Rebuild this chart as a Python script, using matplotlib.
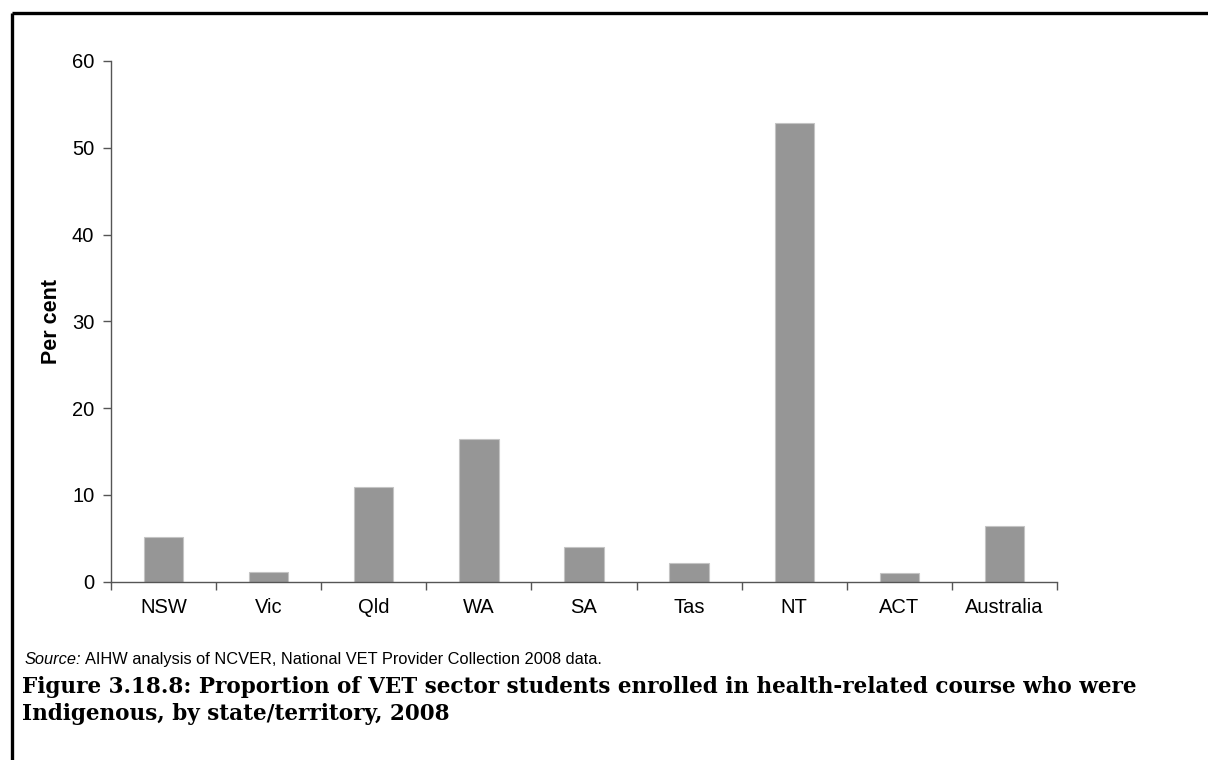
import numpy as np
import matplotlib
matplotlib.use("Agg")
import matplotlib.pyplot as plt
from matplotlib.lines import Line2D

states = ["NSW", "Vic", "Qld", "WA", "SA", "Tas", "NT", "ACT", "Australia"]
per_cent = [5.1, 1.15, 10.9, 16.4, 4.0, 2.1, 52.9, 0.97, 6.4]
y_ticks = [0, 10, 20, 30, 40, 50, 60]

source_text = "AIHW analysis of NCVER, National VET Provider Collection 2008 data."
caption_1 = "Figure 3.18.8: Proportion of VET sector students enrolled in health-related course who were"
caption_2 = "Indigenous, by state/territory, 2008"

plt.rcParams["font.family"] = ["Liberation Sans", "DejaVu Sans"]

W, H = 1208, 760
fig = plt.figure(figsize=(W / 100, H / 100), dpi=100)
ax = fig.add_axes([111 / W, 1 - 581.7 / H, (1057 - 111) / W, (581.7 - 61) / H])

x = np.arange(len(states))
ax.bar(x, per_cent, width=0.375, color="#969696", edgecolor="#c4c4c4", linewidth=0.8)

ax.set_xlim(-0.5, len(states) - 0.5)
ax.set_ylim(0, 60)
ax.set_yticks(y_ticks)
ax.set_yticklabels([str(v) for v in y_ticks], fontsize=14.5)
ax.set_xticks(x)
ax.set_xticklabels(states, fontsize=14.5)
ax.set_xticks(np.arange(-0.5, len(states)), minor=True)
ax.tick_params(axis="x", which="major", length=0, pad=12)
ax.tick_params(axis="x", which="minor", length=6, width=1, color="#555555", direction="out")
ax.tick_params(axis="y", length=6, width=1, color="#555555", pad=6)

for side in ["top", "right"]:
    ax.spines[side].set_visible(False)
for side in ["left", "bottom"]:
    ax.spines[side].set_color("#555555")
    ax.spines[side].set_linewidth(1.0)

ax.set_ylabel("Per cent", fontsize=15.5, fontweight="bold", labelpad=7)

# source line and caption
fig.text(25 / W, 1 - 664 / H, "Source:", fontsize=11.8, style="italic", va="baseline", ha="left")
fig.text(85 / W, 1 - 664 / H, source_text, fontsize=11.8, va="baseline", ha="left")
fig.text(22 / W, 1 - 687 / H, caption_1, fontsize=15.5, fontweight="bold",
         family="DejaVu Serif", va="center", ha="left")
fig.text(22 / W, 1 - 714 / H, caption_2, fontsize=15.5, fontweight="bold",
         family="DejaVu Serif", va="center", ha="left")

# outer frame (top and left edges)
fig.add_artist(Line2D([12 / W, 1.0], [1 - 13 / H, 1 - 13 / H], transform=fig.transFigure,
                      color="black", linewidth=2.4, solid_capstyle="butt"))
fig.add_artist(Line2D([12 / W, 12 / W], [1 - 13 / H, 0.0], transform=fig.transFigure,
                      color="black", linewidth=2.4, solid_capstyle="butt"))

fig.savefig("out.png", dpi=100)
